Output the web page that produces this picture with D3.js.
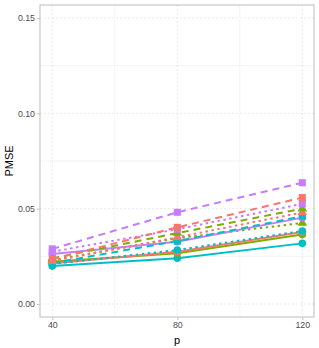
<!DOCTYPE html>
<html lang="en">
<head>
<meta charset="UTF-8">
<title>PMSE</title>
<script src="https://cdn.jsdelivr.net/npm/d3@7"></script>
<style>
  body { margin: 0; background: #fff; }
  text { font-family: "Liberation Sans", Arial, sans-serif; }
</style>
</head>
<body>
<script>
// data
var pValues = [40, 80, 120];
var yTicks = [0, 0.05, 0.10, 0.15];
var yTickLabels = ["0.00", "0.05", "0.10", "0.15"];

var purpleDashed = [0.0289, 0.0481, 0.0636];
var redDashed    = [0.0235, 0.0402, 0.0558];
var purpleDotted = [0.0274, 0.0392, 0.0525];
var greenDashed  = [0.0240, 0.0372, 0.0500];
var redDotted    = [0.0225, 0.0350, 0.0480];
var tealDashed   = [0.0215, 0.0330, 0.0460];
var purpleSolid  = [0.0262, 0.0327, 0.0453];
var greenDotted  = [0.0230, 0.0345, 0.0425];
var tealDotted   = [0.0210, 0.0283, 0.0383];
var redSolid     = [0.0213, 0.0274, 0.0378];
var greenSolid   = [0.0222, 0.0266, 0.0364];
var tealSolid    = [0.0199, 0.0240, 0.0318];

var red = "#F8766D", green = "#7CAE00", teal = "#00BFC4", purple = "#C77CFF";

var series = [
  {v: tealSolid,    c: teal,   lt: "solid",  sh: "circle"},
  {v: greenSolid,   c: green,  lt: "solid",  sh: "circle"},
  {v: redSolid,     c: red,    lt: "solid",  sh: "circle"},
  {v: tealDotted,   c: teal,   lt: "dotted", sh: "circle"},
  {v: greenDotted,  c: green,  lt: "dotted", sh: "triangle"},
  {v: purpleSolid,  c: purple, lt: "solid",  sh: "circle"},
  {v: tealDashed,   c: teal,   lt: "dashed", sh: "square"},
  {v: redDotted,    c: red,    lt: "dotted", sh: "triangle"},
  {v: greenDashed,  c: green,  lt: "dashed", sh: "triangle"},
  {v: purpleDotted, c: purple, lt: "dotted", sh: "square"},
  {v: redDashed,    c: red,    lt: "dashed", sh: "square"},
  {v: purpleDashed, c: purple, lt: "dashed", sh: "square"}
];

var W = 319, H = 348;
var panel = {left: 40, right: 314, top: 5, bottom: 317};

var x = d3.scaleLinear().domain([40, 120]).range([52.3, 302.3]);
var y = d3.scaleLinear().domain([0, 0.15]).range([304, 18]);

var svg = d3.select("body").append("svg")
    .attr("width", W)
    .attr("height", H);

// minor grid
svg.selectAll(".minx").data([60, 100]).enter().append("line")
    .attr("x1", function (d) { return x(d); }).attr("x2", function (d) { return x(d); })
    .attr("y1", panel.top).attr("y2", panel.bottom)
    .style("stroke", "#EDEDED").style("stroke-width", 0.6);
svg.selectAll(".miny").data([0.025, 0.075, 0.125]).enter().append("line")
    .attr("x1", panel.left).attr("x2", panel.right)
    .attr("y1", function (d) { return y(d); }).attr("y2", function (d) { return y(d); })
    .style("stroke", "#EDEDED").style("stroke-width", 0.6);

// major grid (dotted)
svg.selectAll(".majx").data(pValues).enter().append("line")
    .attr("x1", function (d) { return x(d); }).attr("x2", function (d) { return x(d); })
    .attr("y1", panel.top).attr("y2", panel.bottom)
    .style("stroke", "#E3E3E3").style("stroke-width", 0.8)
    .style("stroke-dasharray", "2,2");
svg.selectAll(".majy").data(yTicks).enter().append("line")
    .attr("x1", panel.left).attr("x2", panel.right)
    .attr("y1", function (d) { return y(d); }).attr("y2", function (d) { return y(d); })
    .style("stroke", "#E3E3E3").style("stroke-width", 0.8)
    .style("stroke-dasharray", "2,2");

// axes
var xAxis = d3.axisBottom(x).tickValues(pValues).tickSize(3).tickPadding(2);
var yAxis = d3.axisLeft(y).tickValues(yTicks).tickSize(3).tickPadding(2)
    .tickFormat(function (d, i) { return yTickLabels[i]; });

var gx = svg.append("g").attr("transform", "translate(0," + panel.bottom + ")").call(xAxis);
var gy = svg.append("g").attr("transform", "translate(" + panel.left + ",0)").call(yAxis);
[gx, gy].forEach(function (g) {
  g.select(".domain").remove();
  g.selectAll("line").style("stroke", "#C4C4C4").style("stroke-width", 1);
  g.selectAll("text").style("font-size", "8.8px").style("fill", "#4D4D4D")
      .style("font-family", "Liberation Sans, Arial, sans-serif");
});

// lines and points
var line = d3.line()
    .x(function (d, i) { return x(pValues[i]); })
    .y(function (d) { return y(d); });

var dash = {solid: null, dotted: "2.5,3.5", dashed: "7,5"};
var sym = {circle: d3.symbolCircle, triangle: d3.symbolTriangle, square: d3.symbolSquare};
var symSize = {circle: 46, triangle: 40, square: 50};

series.forEach(function (s) {
  svg.append("path")
      .datum(s.v)
      .attr("d", line)
      .style("fill", "none")
      .style("stroke", s.c)
      .style("stroke-width", 2)
      .style("stroke-dasharray", dash[s.lt]);
});
series.forEach(function (s) {
  svg.selectAll(null).data(s.v).enter().append("path")
      .attr("d", d3.symbol().type(sym[s.sh]).size(symSize[s.sh]))
      .attr("transform", function (d, i) { return "translate(" + x(pValues[i]) + "," + y(d) + ")"; })
      .style("fill", s.c);
});

// panel border
svg.append("rect")
    .attr("x", panel.left).attr("y", panel.top)
    .attr("width", panel.right - panel.left).attr("height", panel.bottom - panel.top)
    .style("fill", "none").style("stroke", "#CCCCCC").style("stroke-width", 1.3);

// titles
svg.append("text")
    .attr("x", (panel.left + panel.right) / 2).attr("y", 344)
    .attr("text-anchor", "middle")
    .style("font-size", "11px").style("fill", "#000")
    .text("p");
svg.append("text")
    .attr("transform", "translate(13," + ((panel.top + panel.bottom) / 2) + ") rotate(-90)")
    .attr("text-anchor", "middle")
    .style("font-size", "11px").style("fill", "#000")
    .text("PMSE");
</script>
</body>
</html>
